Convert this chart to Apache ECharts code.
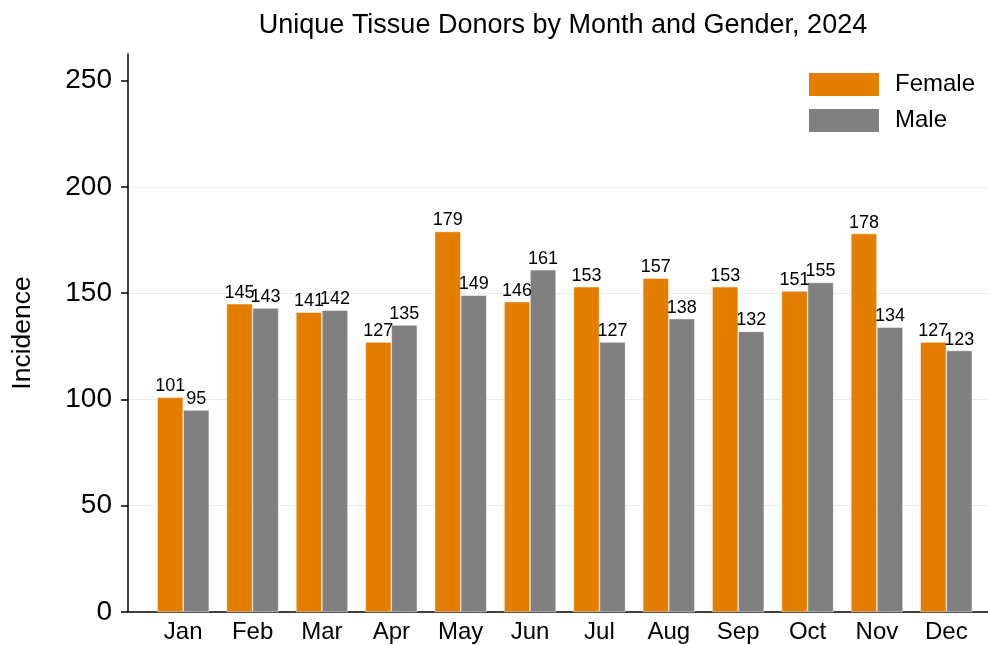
<!DOCTYPE html>
<html>
<head>
<meta charset="utf-8">
<script src="https://cdn.jsdelivr.net/npm/echarts@6.0.0/dist/echarts.min.js"></script>
<style>
  html, body { margin: 0; padding: 0; background: #fff; }
  #chart { width: 988px; height: 645px; }
</style>
</head>
<body>
<div id="chart"></div>
<script>
const months = ["Jan", "Feb", "Mar", "Apr", "May", "Jun", "Jul", "Aug", "Sep", "Oct", "Nov", "Dec"];
const female = [101, 145, 141, 127, 179, 146, 153, 157, 153, 151, 178, 127];
const male = [95, 143, 142, 135, 149, 161, 127, 138, 132, 155, 134, 123];
const yTicks = [0, 50, 100, 150, 200, 250];
const gridValues = [50, 100, 150, 200];

const font = "Liberation Sans, Arial, sans-serif";
const chart = echarts.init(document.getElementById("chart"));

chart.setOption({
  animation: false,
  textStyle: { fontFamily: font },
  title: {
    text: "Unique Tissue Donors by Month and Gender, 2024",
    left: 558,
    textAlign: "center",
    top: 7,
    textStyle: { fontSize: 27, fontWeight: "normal", color: "#000", fontFamily: font }
  },
  legend: {
    data: ["Female", "Male"],
    orient: "vertical",
    right: 8,
    top: 66,
    icon: "rect",
    itemWidth: 72,
    itemHeight: 25,
    itemGap: 9,
    textStyle: { fontSize: 24, color: "#000", fontFamily: font, padding: [0, 0, 0, 10] }
  },
  grid: [
    // frame: axis lines, y labels, gridlines
    { left: 128, right: 0, top: 54, bottom: 33 },
    // bars
    { left: 148.5, right: 7, top: 54, bottom: 33 }
  ],
  xAxis: [
    {
      gridIndex: 0,
      type: "value",
      min: 0,
      max: 1,
      axisLine: { show: true, onZero: false, lineStyle: { color: "#000", width: 1.5 } },
      axisTick: { show: false },
      axisLabel: { show: false },
      splitLine: { show: false }
    },
    {
      gridIndex: 1,
      type: "category",
      data: months,
      axisLine: { show: false },
      axisTick: { show: false },
      axisLabel: { fontSize: 24, color: "#000", margin: 8, fontFamily: font }
    }
  ],
  yAxis: [
    {
      gridIndex: 0,
      type: "value",
      min: 0,
      max: 262.5,
      interval: 50,
      name: "Incidence",
      nameLocation: "middle",
      nameGap: 92,
      nameTextStyle: { fontSize: 26.5, color: "#000", fontFamily: font },
      axisLine: { show: true, lineStyle: { color: "#000", width: 1.5 } },
      axisTick: { show: true, length: 7, customValues: yTicks, lineStyle: { color: "#000", width: 1.5 } },
      axisLabel: { fontSize: 28, color: "#000", margin: 16, customValues: yTicks, fontFamily: font },
      splitLine: { show: false }
    },
    {
      gridIndex: 1,
      type: "value",
      min: 0,
      max: 262.5,
      show: false
    }
  ],
  series: [
    {
      type: "line",
      xAxisIndex: 0,
      yAxisIndex: 0,
      data: [],
      z: 0,
      markLine: {
        silent: true,
        z: 0,
        symbol: "none",
        label: { show: false },
        lineStyle: { color: "#ebebeb", type: "solid", width: 1 },
        data: gridValues.map(v => ({ yAxis: v }))
      }
    },
    {
      name: "Female",
      type: "bar",
      xAxisIndex: 1,
      yAxisIndex: 1,
      data: female,
      barWidth: 26,
      barGap: "0%",
      z: 5,
      itemStyle: { color: "#E37E00", borderColor: "#fff", borderWidth: 0.5 },
      label: { show: true, position: "top", distance: 2, fontSize: 18, color: "#000", fontFamily: font }
    },
    {
      name: "Male",
      type: "bar",
      xAxisIndex: 1,
      yAxisIndex: 1,
      data: male,
      barWidth: 26,
      z: 5,
      itemStyle: { color: "#808080", borderColor: "#fff", borderWidth: 0.5 },
      label: { show: true, position: "top", distance: 2, fontSize: 18, color: "#000", fontFamily: font }
    }
  ]
});
</script>
</body>
</html>
